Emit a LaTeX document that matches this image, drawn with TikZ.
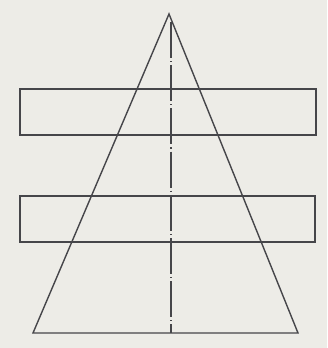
\documentclass[tikz,border=0pt]{standalone}
\usepackage{tikz}
\usetikzlibrary{calc}
\definecolor{paperbg}{RGB}{237,236,231}
\definecolor{inkline}{RGB}{70,70,74}
\tikzset{
  outline/.style={draw=inkline, line width=0.7pt, line join=miter},
  axisline/.style={draw=inkline, line width=0.6pt, dash pattern=on 18pt off 1.5pt on 0.6pt off 1.5pt}
}
\begin{document}
\begin{tikzpicture}[x=0.5pt, y=-0.5pt]
  % paper
  \fill[paperbg] (0,0) rectangle (327,348);
  \useasboundingbox (0,0) rectangle (327,348);

  % corners of the cone
  \coordinate (apex) at (169,14);
  \coordinate (baseL) at (33,333);
  \coordinate (baseR) at (298,333);
  \coordinate (axtop) at (171,22);
  \coordinate (axbot) at (171,333);

  % the two bands
  \draw[outline] (20,89) rectangle (316,135);
  \draw[outline] (20,196) rectangle (315,242);

  % triangle
  \draw[outline] (apex) -- (baseL) -- (baseR) -- cycle;

  % axis
  \draw[axisline] (axtop) -- (axbot);
\end{tikzpicture}
\end{document}
